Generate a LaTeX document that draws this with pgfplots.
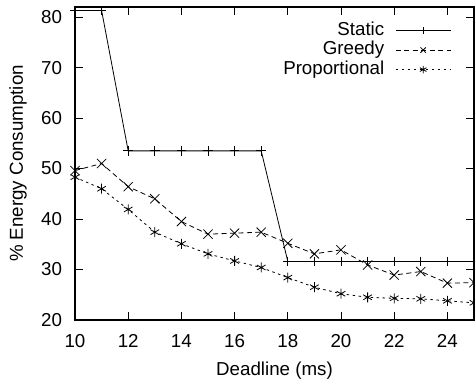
\documentclass[border=0pt]{standalone}
\usepackage{pgfplots}
\pgfplotsset{compat=1.18}
\usepackage{fontspec}
\setmainfont{Liberation Sans}
\begin{document}
\fontsize{18.8}{22}\selectfont
\begin{tikzpicture}
\begin{axis}[
  name=ax,
  scale only axis, width=399bp, height=313bp,
  xmin=10, xmax=25, ymin=20, ymax=82,
  xtick={10,12,...,24}, ytick={20,30,...,80},
  tick align=inside, major tick length=8bp,
  tick style={line width=0.8bp, black},
  axis line style={line width=1.2bp},
  font=\fontsize{18.8}{22}\selectfont,
  /pgf/number format/assume math mode=true,
  xticklabel style={yshift=-8bp},
  yticklabel style={xshift=-6.5bp},
  xlabel={Deadline (ms)},
  ylabel={\% Energy Consumption},
  every axis x label/.style={at={(axis description cs:0.5,0)}, anchor=center, yshift=-51bp},
  every axis y label/.style={at={(axis description cs:0,0.5)}, anchor=center, rotate=90, yshift=57bp},
  legend plot pos=right,
  legend cell align=right,
  legend style={draw=none, fill=none, inner sep=0pt, outer sep=0pt,
    at={(rel axis cs:0.9425,0.955)}, anchor=north east,
    row sep=0.5bp,
    nodes={inner sep=1bp, text height=13bp, text depth=4bp}},
  legend image code/.code={\path (0bp,0bp) (65bp,0bp);
    \draw[mark repeat=2,mark phase=2,mark size=3.8bp] plot coordinates {(10bp,0bp)(37.5bp,0bp)(65bp,0bp)};},
]
\addplot[black, line width=0.8bp, mark=+, mark size=4.8bp, mark options={solid}] coordinates {
(10,81.3)(11,81.3)(12,53.5)(13,53.5)(14,53.5)(15,53.5)(16,53.5)(17,53.5)
(18,31.6)(19,31.6)(20,31.6)(21,31.6)(22,31.6)(23,31.6)(24,31.6)(25,31.6)};
\addlegendentry{Static}
\addplot[black, line width=0.8bp, dash pattern=on 5bp off 3.5bp, mark=x, mark size=6.5bp, mark options={solid}] coordinates {
(10,49.6)(11,51.0)(12,46.4)(13,44.0)(14,39.5)(15,37.0)(16,37.2)(17,37.4)
(18,35.2)(19,33.1)(20,33.9)(21,30.9)(22,28.9)(23,29.6)(24,27.3)(25,27.4)};
\addlegendentry{Greedy}
\addplot[black, line width=0.8bp, dash pattern=on 2.5bp off 3.5bp, mark=asterisk, mark size=5bp, mark options={solid}] coordinates {
(10,48.3)(11,46.0)(12,41.9)(13,37.4)(14,35.1)(15,33.1)(16,31.7)(17,30.4)
(18,28.4)(19,26.5)(20,25.2)(21,24.5)(22,24.3)(23,24.2)(24,23.8)(25,23.4)};
\addlegendentry{Proportional}
\end{axis}
\pgfresetboundingbox
\path ([shift={(-75bp,-63bp)}]ax.south west) rectangle ([shift={(1bp,7bp)}]ax.north east);
\end{tikzpicture}
\end{document}
